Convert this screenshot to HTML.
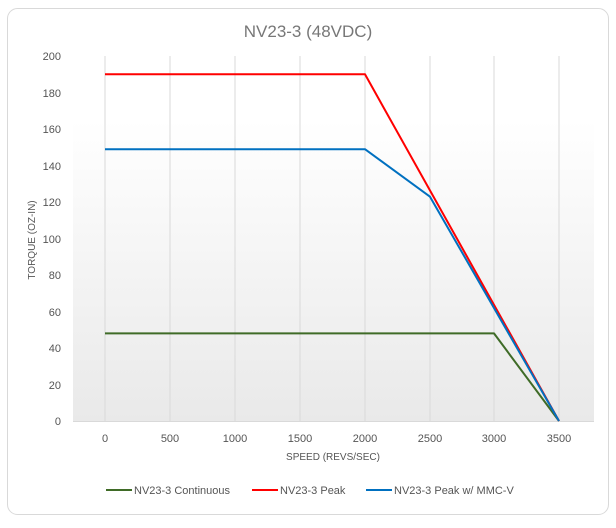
<!DOCTYPE html>
<html><head><style>
body{margin:0;background:#fff;width:616px;height:523px;overflow:hidden}
</style></head><body>
<svg width="616" height="523" viewBox="0 0 616 523" xmlns="http://www.w3.org/2000/svg" font-family="Liberation Sans, sans-serif">
<defs><linearGradient id="g" x1="0" y1="0" x2="0" y2="1"><stop offset="0" stop-color="#ffffff"/><stop offset="1" stop-color="#e9e9e9"/></linearGradient></defs>
<rect x="7.5" y="8.5" width="601" height="506" rx="10" fill="#fff" stroke="#d9d9d9"/>
<rect x="73" y="120" width="521" height="301" fill="url(#g)"/>
<g stroke="#d9d9d9" stroke-width="1">
<line x1="105" y1="56" x2="105" y2="421"/><line x1="170" y1="56" x2="170" y2="421"/><line x1="235" y1="56" x2="235" y2="421"/><line x1="300" y1="56" x2="300" y2="421"/><line x1="365" y1="56" x2="365" y2="421"/><line x1="430" y1="56" x2="430" y2="421"/><line x1="494" y1="56" x2="494" y2="421"/><line x1="559" y1="56" x2="559" y2="421"/>
<line x1="73" y1="421.5" x2="594" y2="421.5"/>
</g>
<text x="308" y="37" text-anchor="middle" font-size="17" fill="#777">NV23-3 (48VDC)</text>
<g font-size="11" fill="#555" text-anchor="end">
<text x="61" y="60">200</text><text x="61" y="97">180</text><text x="61" y="133">160</text><text x="61" y="170">140</text><text x="61" y="206">120</text><text x="61" y="243">100</text><text x="61" y="279">80</text><text x="61" y="316">60</text><text x="61" y="352">40</text><text x="61" y="389">20</text><text x="61" y="425">0</text>
</g>
<g font-size="11" fill="#555" text-anchor="middle">
<text x="105" y="442">0</text><text x="170" y="442">500</text><text x="235" y="442">1000</text><text x="300" y="442">1500</text><text x="365" y="442">2000</text><text x="430" y="442">2500</text><text x="494" y="442">3000</text><text x="559" y="442">3500</text>
<text x="333" y="460" font-size="10">SPEED (REVS/SEC)</text>
</g>
<text transform="translate(35,240) rotate(-90)" text-anchor="middle" font-size="10" fill="#555">TORQUE (OZ-IN)</text>
<g fill="none" stroke-width="2" stroke-linejoin="round">
<polyline stroke="#3f6b27" points="105,333.4 494,333.4 559,421"/>
<polyline stroke="#ff0000" points="105,74.3 365,74.3 559,421"/>
<polyline stroke="#0070c0" points="105,149.2 365,149.2 430,196.7 559,421"/>
</g>
<g font-size="11" fill="#555">
<line x1="106" y1="490" x2="132" y2="490" stroke="#3f6b27" stroke-width="2"/><text x="134" y="494">NV23-3 Continuous</text>
<line x1="252" y1="490" x2="278" y2="490" stroke="#ff0000" stroke-width="2"/><text x="280" y="494">NV23-3 Peak</text>
<line x1="366" y1="490" x2="392" y2="490" stroke="#0070c0" stroke-width="2"/><text x="394" y="494">NV23-3 Peak w/ MMC-V</text>
</g>
</svg>
</body></html>
